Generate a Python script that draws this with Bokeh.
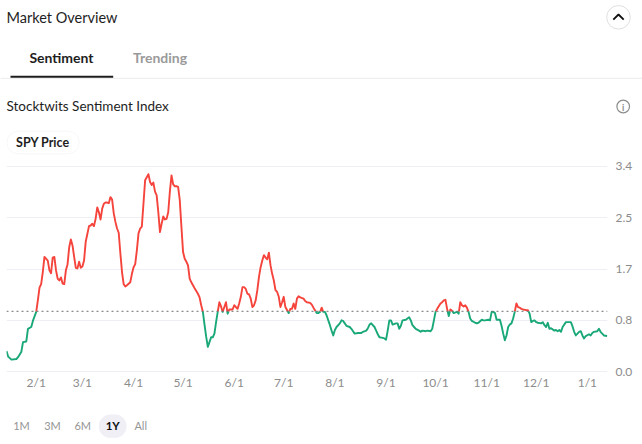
from datetime import datetime, timedelta

from bokeh.plotting import figure
from bokeh.models import (Range1d, Span, FixedTicker, MonthsTicker,
                          CustomJSTickFormatter, BoxAnnotation, ColumnDataSource)
from bokeh.layouts import column
from bokeh.embed import file_html
from bokeh.resources import INLINE
from bokeh.core.properties import value

# ---------------- data ----------------
START = datetime(2023, 1, 1)
day_offsets = [
    13, 14, 16, 19, 20, 22, 23, 25, 26, 28, 29, 31, 32, 33, 34, 35, 36, 38, 39, 40,
    41, 42, 43, 44, 45, 46, 47, 48, 49, 50, 51, 52, 53, 54, 55, 56, 57, 58, 59, 60,
    61, 63, 64, 65, 66, 67, 68, 69, 70, 71, 72, 73, 74, 75, 76, 77, 78, 79, 80, 81,
    82, 83, 84, 85, 86, 88, 89, 90, 91, 92, 93, 94, 95, 96, 97, 98, 99, 100, 101, 102,
    103, 104, 105, 106, 107, 108, 109, 110, 111, 112, 113, 114, 115, 116, 117, 118, 119, 120, 121, 122,
    123, 124, 125, 126, 127, 129, 130, 131, 132, 133, 134, 135, 136, 137, 138, 139, 140, 141, 142, 143,
    144, 145, 146, 147, 148, 149, 150, 151, 153, 154, 155, 156, 157, 158, 159, 160, 161, 162, 163, 164,
    165, 166, 167, 168, 169, 170, 171, 172, 173, 174, 175, 176, 177, 178, 179, 180, 181, 182, 183, 184,
    185, 186, 187, 188, 189, 190, 191, 193, 194, 195, 197, 198, 199, 201, 202, 203, 204, 205, 206, 207,
    208, 209, 210, 211, 212, 213, 215, 216, 217, 218, 219, 221, 222, 223, 224, 226, 228, 229, 231, 232,
    233, 234, 236, 237, 238, 239, 241, 242, 243, 244, 245, 246, 247, 249, 250, 251, 252, 253, 255, 257,
    258, 259, 260, 261, 263, 264, 265, 267, 268, 270, 271, 272, 273, 274, 276, 277, 278, 279, 280, 281,
    282, 283, 284, 286, 287, 288, 289, 290, 291, 292, 293, 294, 295, 297, 298, 299, 301, 302, 303, 305,
    306, 307, 308, 309, 310, 312, 313, 314, 315, 316, 317, 318, 319, 320, 321, 322, 323, 324, 325, 326,
    328, 329, 330, 331, 332, 333, 334, 335, 337, 338, 339, 340, 341, 342, 343, 345, 346, 347, 348, 349,
    350, 352, 353, 355, 356, 357, 358, 360, 361, 362, 363, 364, 366, 367, 368, 369, 371, 372, 373, 374,
    375, 377,
]
sentiment = [
    0.34, 0.25, 0.20, 0.21, 0.24, 0.33, 0.49, 0.50, 0.71, 0.74, 0.84, 0.99, 1.18, 1.39, 1.45, 1.65, 1.90, 1.84, 1.68, 1.63,
    1.89, 1.90, 1.68, 1.54, 1.51, 1.56, 1.46, 1.45, 1.68, 1.78, 2.06, 2.19, 2.09, 1.90, 1.72, 1.71, 1.82, 1.72, 1.74, 1.84,
    2.15, 2.41, 2.42, 2.45, 2.41, 2.53, 2.72, 2.64, 2.52, 2.70, 2.78, 2.80, 2.80, 2.79, 2.89, 2.85, 2.62, 2.48, 2.37, 2.30,
    1.96, 1.65, 1.45, 1.41, 1.43, 1.48, 1.62, 1.73, 1.78, 2.01, 2.29, 2.37, 2.40, 2.78, 3.17, 3.22, 3.27, 3.14, 3.09, 3.13,
    2.98, 2.92, 2.64, 2.31, 2.45, 2.57, 2.52, 2.53, 2.64, 2.98, 3.25, 3.10, 3.07, 3.07, 3.06, 2.84, 2.40, 1.98, 1.87, 1.82,
    1.76, 1.54, 1.48, 1.43, 1.38, 1.29, 1.23, 1.10, 0.99, 0.78, 0.58, 0.41, 0.49, 0.57, 0.57, 0.63, 0.82, 0.99, 1.15, 1.08,
    0.99, 1.07, 1.15, 0.96, 1.03, 1.03, 1.03, 1.10, 1.04, 1.13, 1.24, 1.40, 1.40, 1.37, 1.29, 1.28, 1.21, 1.07, 1.10, 1.18,
    1.35, 1.57, 1.73, 1.84, 1.93, 1.89, 1.86, 1.97, 1.76, 1.62, 1.51, 1.35, 1.32, 1.24, 1.07, 1.15, 1.24, 1.07, 1.02, 0.97,
    1.04, 1.04, 1.13, 1.04, 1.21, 1.25, 1.23, 1.21, 1.17, 1.15, 1.14, 1.11, 1.06, 0.97, 0.97, 0.99, 1.06, 0.99, 0.99, 0.93,
    0.85, 0.77, 0.68, 0.60, 0.69, 0.74, 0.80, 0.85, 0.84, 0.80, 0.76, 0.74, 0.71, 0.67, 0.63, 0.64, 0.64, 0.66, 0.68, 0.72,
    0.78, 0.80, 0.74, 0.68, 0.62, 0.57, 0.56, 0.55, 0.53, 0.68, 0.85, 0.85, 0.78, 0.80, 0.80, 0.71, 0.76, 0.85, 0.86, 0.90,
    0.85, 0.77, 0.74, 0.71, 0.68, 0.66, 0.68, 0.67, 0.68, 0.67, 0.71, 0.85, 0.99, 1.04, 1.13, 1.15, 1.18, 1.19, 1.04, 0.92,
    1.03, 1.01, 0.97, 0.99, 0.96, 1.15, 1.10, 1.08, 1.10, 1.06, 0.99, 0.88, 0.84, 0.81, 0.80, 0.81, 0.86, 0.85, 0.85, 0.86,
    0.85, 0.99, 0.99, 0.97, 0.86, 0.86, 0.76, 0.63, 0.52, 0.60, 0.74, 0.78, 0.80, 0.88, 0.99, 1.13, 1.07, 1.06, 1.04, 1.03,
    1.02, 1.02, 0.96, 0.82, 0.84, 0.85, 0.82, 0.81, 0.80, 0.82, 0.77, 0.74, 0.81, 0.71, 0.72, 0.68, 0.69, 0.67, 0.69, 0.66,
    0.74, 0.82, 0.82, 0.82, 0.75, 0.66, 0.60, 0.66, 0.67, 0.60, 0.55, 0.59, 0.62, 0.60, 0.64, 0.66, 0.67, 0.71, 0.66, 0.63,
    0.60, 0.59,
]
THRESHOLD = 1.0
y_ticks = [0.0, 0.85, 1.7, 2.55, 3.4]
y_tick_labels = ["0.0", "0.8", "1.7", "2.5", "3.4"]
panel_title = "Market Overview"
tab_labels = ["Sentiment", "Trending"]
chart_title = "Stocktwits Sentiment Index"
toggle_label = "SPY Price"
range_labels = ["1M", "3M", "6M", "1Y", "All"]
selected_range = "1Y"

# ---------------- styles ----------------
FONT = "Lato"
RED = "#f5443c"
GREEN = "#1aa878"
DARK = "#1e1e1e"
MUTED = "#959595"
W = 642

EPOCH = datetime(1970, 1, 1)


def to_ms(d):
    return (d - EPOCH).total_seconds() * 1000.0


xs = [to_ms(START + timedelta(days=d)) for d in day_offsets]

# split the series into segments above / below the threshold
seg_xs, seg_ys, seg_cols = [], [], []
cur_x, cur_y = [xs[0]], [sentiment[0]]
cur_above = sentiment[0] > THRESHOLD
for i in range(1, len(xs)):
    above = sentiment[i] > THRESHOLD
    if above != cur_above:
        f = (THRESHOLD - sentiment[i - 1]) / (sentiment[i] - sentiment[i - 1])
        xc = xs[i - 1] + f * (xs[i] - xs[i - 1])
        cur_x.append(xc)
        cur_y.append(THRESHOLD)
        seg_xs.append(cur_x)
        seg_ys.append(cur_y)
        seg_cols.append(RED if cur_above else GREEN)
        cur_x, cur_y = [xc], [THRESHOLD]
        cur_above = above
    cur_x.append(xs[i])
    cur_y.append(sentiment[i])
seg_xs.append(cur_x)
seg_ys.append(cur_y)
seg_cols.append(RED if cur_above else GREEN)


def panel_fig(h):
    f = figure(width=W, height=h, x_range=Range1d(0, W), y_range=Range1d(h, 0),
               output_backend="svg", toolbar_location=None,
               x_axis_location=None, y_axis_location=None, min_border=0,
               frame_align=False)
    f.grid.visible = False
    f.outline_line_color = None
    return f


def put_text(f, x, y, txt, size, color, bold=False, align="left", baseline="middle"):
    f.text(x=[x], y=[y], text=[txt], text_font=value(FONT), text_font_size=value(size),
           text_font_style="bold" if bold else "normal", text_color=color,
           text_align=align, text_baseline=baseline)


# ---------------- header ----------------
header = panel_fig(158)
put_text(header, 6, 16.8, panel_title, "14.5px", DARK)
header.circle(x=[618], y=[16.8], radius=11.8, fill_color=None, line_color="#e0e0e0", line_width=1)
header.line(x=[612.8, 618, 623.2], y=[19.2, 14.0, 19.2], line_color="#111111", line_width=1.8)
tab_x = [61, 159.5]
for i, lab in enumerate(tab_labels):
    put_text(header, tab_x[i], 57.2, lab, "14px", DARK if i == 0 else "#9a9a9a", bold=True, align="center")
header.segment(x0=[0], y0=[77.8], x1=[W], y1=[77.8], line_color="#ececec", line_width=1)
header.quad(left=[10], right=[112.7], top=[75.3], bottom=[77.3], fill_color=DARK, line_color=None)
put_text(header, 6, 105.5, chart_title, "13.5px", DARK)
header.circle(x=[622.7], y=[106], radius=6.3, fill_color=None, line_color="#8c8c8c", line_width=1.2)
put_text(header, 622.7, 106.5, "i", "9px", "#8c8c8c", bold=True, align="center")
header.add_layout(BoxAnnotation(left=6.5, right=78.7, top=130.7, bottom=153.3, border_radius=11,
                                fill_color="white", fill_alpha=1, line_color="#e3e3e3", line_width=1,
                                level="underlay"))
put_text(header, 42.3, 142, toggle_label, "12.5px", DARK, bold=True, align="center")

# ---------------- chart ----------------
chart = figure(width=W, height=242, x_axis_type="datetime", y_axis_location="right",
               x_range=Range1d(to_ms(START + timedelta(days=13.0)), to_ms(START + timedelta(days=377.2))),
               y_range=Range1d(-0.03, 3.43),
               output_backend="svg", toolbar_location=None, frame_align=False,
               min_border_left=6, min_border_right=35, min_border_top=6, min_border_bottom=27)
chart.outline_line_color = None
chart.xgrid.grid_line_color = None
chart.ygrid.ticker = FixedTicker(ticks=y_ticks)
chart.ygrid.grid_line_color = "#eeeef4"
chart.ygrid.grid_line_width = 1.2
chart.yaxis.ticker = FixedTicker(ticks=y_ticks)
chart.yaxis.formatter = CustomJSTickFormatter(args=dict(yt=y_ticks, yl=y_tick_labels), code="""
for (let i = 0; i < yt.length; i++) {
  if (Math.abs(yt[i] - tick) < 1e-6) { return yl[i]; }
}
return tick.toFixed(1);
""")
chart.xaxis.ticker = MonthsTicker(months=list(range(12)))
chart.xaxis.formatter = CustomJSTickFormatter(code="""
const d = new Date(tick);
return (d.getUTCMonth() + 1) + "/" + d.getUTCDate();
""")
for ax in chart.axis:
    ax.axis_line_color = None
    ax.major_tick_line_color = None
    ax.minor_tick_line_color = None
    ax.major_tick_out = 0
    ax.major_tick_in = 0
    ax.minor_tick_out = 0
    ax.major_label_text_color = "#8c8c8c"
    ax.major_label_text_font = FONT
    ax.major_label_text_font_size = "12px"
chart.xaxis.major_label_standoff = 1
chart.yaxis.major_label_standoff = 8

src = ColumnDataSource(dict(xs=seg_xs, ys=seg_ys, color=seg_cols))
chart.multi_line(xs="xs", ys="ys", line_color="color", line_width=1.9, line_join="round", source=src)
chart.add_layout(Span(location=THRESHOLD, dimension="width", line_color="#6e6e6e",
                      line_width=1, line_dash="2 3"))

# ---------------- footer ----------------
footer = panel_fig(44)
button_x = [21, 52, 82.2, 112.2, 140.2]
sel = range_labels.index(selected_range)
footer.add_layout(BoxAnnotation(left=button_x[sel] - 13.9, right=button_x[sel] + 13.9, top=14, bottom=37.3,
                                border_radius=12, fill_color="#efeff5", fill_alpha=1, line_color=None,
                                level="underlay"))
for i, lab in enumerate(range_labels):
    if lab == selected_range:
        put_text(footer, button_x[i], 25, lab, "11.5px", "#111111", bold=True, align="center")
    else:
        put_text(footer, button_x[i], 25, lab, "11px", MUTED, align="center")

page = column(header, chart, footer, spacing=0)
open("out.html", "w").write(file_html(page, INLINE))
